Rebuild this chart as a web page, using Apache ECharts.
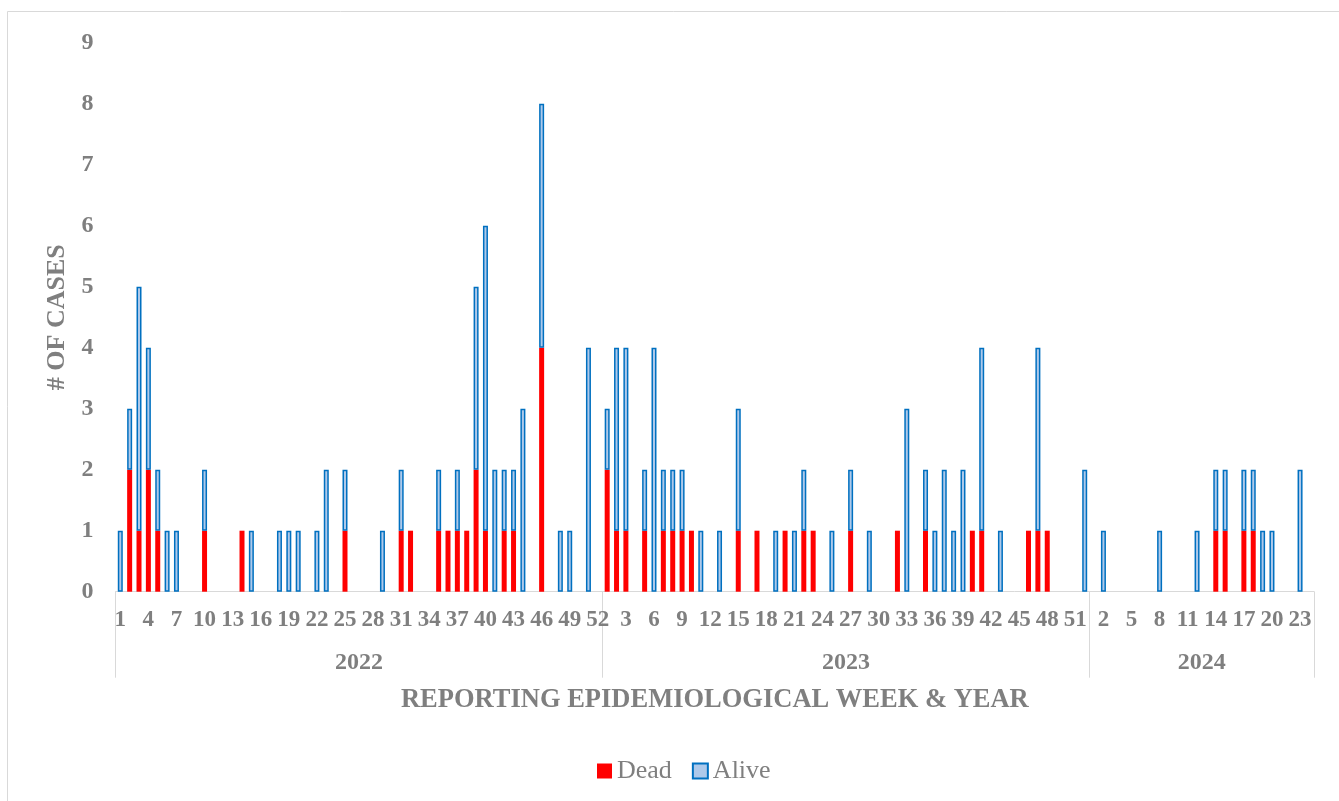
<!DOCTYPE html>
<html>
<head>
<meta charset="utf-8">
<script src="https://cdn.jsdelivr.net/npm/echarts@6/dist/echarts.min.js"></script>
<style>
html,body{margin:0;padding:0;background:#fff;}
#chart{width:1339px;height:801px;}
</style>
</head>
<body>
<div id="chart"></div>
<script>
// ---- data ----
const years = ['2022', '2023', '2024'];
const weeksPerYear = [52, 52, 24];

const dead2022 = [0,2,1,2,1,0,0,0,0,1, 0,0,0,1,0,0,0,0,0,0, 0,0,0,0,1,0,0,0,0,0, 1,1,0,0,1,1,1,1,2,1, 0,1,1,0,0,4,0,0,0,0, 0,0];
const alive2022 = [1,1,4,2,1,1,1,0,0,1, 0,0,0,0,1,0,0,1,1,1, 0,1,2,0,1,0,0,0,1,0, 1,0,0,0,1,0,1,0,3,5, 2,1,1,3,0,4,0,1,1,0, 4,0];
const dead2023 = [2,1,1,0,1,0,1,1,1,1, 0,0,0,0,1,0,1,0,0,1, 0,1,1,0,0,0,1,0,0,0, 0,1,0,0,1,0,0,0,0,1, 1,0,0,0,0,1,1,1,0,0, 0,0];
const alive2023 = [1,3,3,0,1,4,1,1,1,0, 1,0,1,0,2,0,0,0,1,0, 1,1,0,0,1,0,1,0,1,0, 0,0,3,0,1,1,2,1,2,0, 3,0,1,0,0,0,3,0,0,0, 0,2];
const dead2024 = [0,0,0,0,0,0,0,0,0,0, 0,0,0,1,1,0,1,1,0,0, 0,0,0,0];
const alive2024 = [0,1,0,0,0,0,0,1,0,0, 0,1,0,1,1,0,1,1,1,1, 0,0,2,0];

const yTicks = [0,1,2,3,4,5,6,7,8,9];

// ---- build ----
const categories = [];
const weekLabels = [];
years.forEach((y, i) => {
  for (let w = 1; w <= weeksPerYear[i]; w++) { categories.push(y + '-' + w); weekLabels.push(String(w)); }
});
const dead = [].concat(dead2022, dead2023, dead2024).map(v => v === 0 ? '-' : v);
const alive = [].concat(alive2022, alive2023, alive2024).map(v => v === 0 ? '-' : v);

const bounds = [0];
weeksPerYear.forEach((n, i) => bounds.push(bounds[i] + n));
const mids = years.map((y, i) => (bounds[i] + bounds[i + 1]) / 2);

const FONT = '"Liberation Serif","Times New Roman",serif';
const GRAY = '#7f7f7f';

const chart = echarts.init(document.getElementById('chart'), null, {renderer: 'canvas'});
chart.setOption({
  animation: false,
  backgroundColor: '#fff',
  textStyle: {fontFamily: FONT},
  grid: {left: 115.6, right: 24.9, top: 42.7, bottom: 209.3},
  legend: {
    data: [{name: 'Dead', icon: 'rect'}, {name: 'Alive', icon: 'rect'}],
    top: 753,
    left: 592,
    itemWidth: 15, itemHeight: 15, itemGap: 20,
    textStyle: {fontFamily: FONT, fontSize: 26, color: GRAY}
  },
  xAxis: [{
    type: 'category',
    data: categories,
    axisLine: {show: true, lineStyle: {color: '#d9d9d9', width: 1}},
    axisTick: {show: false},
    axisLabel: {
      interval: 2, margin: 17,
      formatter: (v, idx) => weekLabels[idx],
      fontFamily: FONT, fontSize: 23, fontWeight: 'bold', color: GRAY
    },
    name: 'REPORTING EPIDEMIOLOGICAL WEEK & YEAR',
    nameLocation: 'middle', nameGap: 95,
    nameTextStyle: {fontFamily: FONT, fontSize: 26.5, fontWeight: 'bold', color: GRAY}
  }, {
    type: 'value',
    position: 'bottom',
    min: 0, max: bounds[bounds.length - 1],
    axisLine: {show: false},
    splitLine: {show: false},
    axisTick: {show: true, customValues: bounds, length: 86, lineStyle: {color: '#d9d9d9', width: 1}},
    axisLabel: {
      customValues: mids, margin: 59,
      formatter: (v) => { const i = mids.indexOf(v); return i >= 0 ? years[i] : ''; },
      fontFamily: FONT, fontSize: 24, fontWeight: 'bold', color: GRAY
    }
  }],
  yAxis: {
    type: 'value', min: 0, max: 9, interval: 1,
    axisLine: {show: false}, axisTick: {show: false}, splitLine: {show: false},
    axisLabel: {margin: 22, fontFamily: FONT, fontSize: 24, fontWeight: 'bold', color: GRAY,
      formatter: v => String(yTicks[v])},
    name: '# OF CASES', nameLocation: 'middle', nameRotate: 90, nameGap: 43,
    nameTextStyle: {fontFamily: FONT, fontSize: 26, fontWeight: 'bold', color: GRAY}
  },
  series: [{
    name: 'Dead', type: 'bar', stack: 'total', xAxisIndex: 0, barWidth: 5,
    data: dead,
    itemStyle: {color: '#ff0000'}
  }, {
    name: 'Alive', type: 'bar', stack: 'total', xAxisIndex: 0, barWidth: 5,
    data: alive,
    itemStyle: {color: '#aec9ea', borderColor: '#0070c0', borderWidth: 1.5}
  }],
  graphic: [{
    type: 'rect', silent: true,
    shape: {x: 7.5, y: 11.5, width: 1400, height: 900},
    style: {fill: 'none', stroke: '#d9d9d9', lineWidth: 1}
  }]
});
</script>
</body>
</html>
